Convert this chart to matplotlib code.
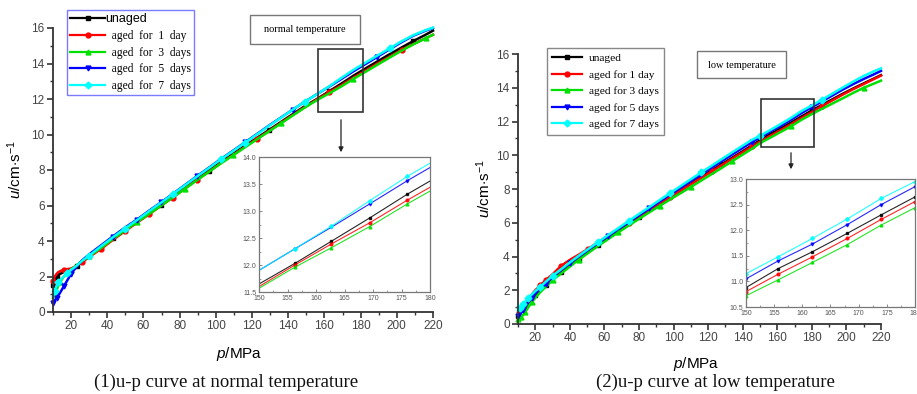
import matplotlib
matplotlib.use("Agg")
import matplotlib.pyplot as plt
from matplotlib.patches import Rectangle, FancyArrowPatch
from matplotlib.lines import Line2D
from matplotlib.ticker import MultipleLocator

plt.rcParams['font.family'] = ['Liberation Sans', 'DejaVu Sans']
plt.rcParams['mathtext.fontset'] = 'custom'
plt.rcParams['mathtext.rm'] = 'Liberation Sans'
plt.rcParams['mathtext.it'] = 'Liberation Sans:italic'

# ---------------- data ----------------
series_names = ["unaged", "aged for 1 day", "aged for 3 days", "aged for 5 days", "aged for 7 days"]
series_colors = ["#000000", "#ff0000", "#00e000", "#0000ff", "#00ffff"]
series_markers = ["s", "o", "^", "v", "D"]

# normal temperature
p_normal = [10, 11, 12, 13, 14, 16, 18, 20, 23, 26, 30, 36.5, 43, 49.7, 56.3, 63, 69.6, 76.2,
            82.8, 89.5, 96, 102.8, 109.4, 116, 122.6, 129.3, 135.9, 142.5, 149.2, 156.3, 162.7,
            169.4, 176, 182.7, 189.3, 196, 202.6, 209.2, 215.9, 220]
u_normal_unaged = [1.5, 1.85, 2.0, 2.1, 2.15, 2.25, 2.32, 2.4, 2.6, 2.85, 3.15, 3.65, 4.15, 4.65,
                   5.1, 5.6, 6.05, 6.5, 7.0, 7.5, 7.95, 8.45, 8.9, 9.35, 9.8, 10.25, 10.7, 11.15,
                   11.6, 12.03, 12.44, 12.87, 13.31, 13.72, 14.12, 14.52, 14.9, 15.27, 15.62, 15.85]
u_normal_1day = [1.75, 2.0, 2.15, 2.25, 2.3, 2.38, 2.42, 2.45, 2.6, 2.8, 3.1, 3.55, 4.05, 4.55,
                 5.02, 5.5, 5.98, 6.45, 6.95, 7.45, 7.9, 8.4, 8.85, 9.3, 9.75, 10.2, 10.65, 11.1,
                 11.55, 12.0, 12.39, 12.78, 13.2, 13.6, 14.0, 14.38, 14.75, 15.1, 15.42, 15.62]
u_normal_3day = [0.8, 1.0, 1.25, 1.5, 1.7, 2.0, 2.2, 2.38, 2.62, 2.88, 3.15, 3.6, 4.1, 4.6,
                 5.05, 5.52, 5.98, 6.45, 6.93, 7.42, 7.88, 8.37, 8.82, 9.27, 9.72, 10.17, 10.62,
                 11.07, 11.52, 11.96, 12.32, 12.71, 13.13, 13.53, 13.93, 14.33, 14.72, 15.08,
                 15.42, 15.62]
u_normal_5day = [0.5, 0.65, 0.8, 0.95, 1.1, 1.45, 1.8, 2.15, 2.55, 2.9, 3.25, 3.75, 4.25, 4.75,
                 5.2, 5.7, 6.17, 6.65, 7.15, 7.65, 8.12, 8.62, 9.08, 9.55, 10.02, 10.5, 10.95,
                 11.4, 11.85, 12.3, 12.7, 13.13, 13.56, 13.97, 14.38, 14.8, 15.2, 15.57, 15.85, 16.0]
u_normal_7day = [0.9, 1.2, 1.5, 1.7, 1.8, 2.0, 2.2, 2.38, 2.6, 2.88, 3.18, 3.7, 4.2, 4.7,
                 5.17, 5.67, 6.15, 6.63, 7.13, 7.63, 8.1, 8.6, 9.06, 9.53, 10.0, 10.48, 10.94,
                 11.4, 11.85, 12.3, 12.72, 13.19, 13.64, 14.05, 14.45, 14.85, 15.25, 15.6, 15.88, 16.02]

# low temperature
p_low = [10, 11, 12, 13, 14, 16, 18, 20, 23, 26, 30, 35, 40, 45, 50.5, 56, 62, 68, 74, 80, 86,
         92, 98, 104, 110, 116, 122, 128, 134, 140, 145.6, 150, 155.7, 161.8, 168, 174, 180,
         186, 192, 198, 204, 210, 216, 220]
u_low_unaged = [0.5, 0.62, 0.75, 0.88, 1.0, 1.25, 1.5, 1.72, 2.02, 2.32, 2.68, 3.08, 3.5, 3.88,
                4.28, 4.68, 5.1, 5.52, 5.92, 6.32, 6.72, 7.12, 7.52, 7.92, 8.32, 8.72, 9.1, 9.48,
                9.86, 10.24, 10.6, 10.88, 11.25, 11.58, 11.94, 12.3, 12.65, 12.99, 13.32, 13.65,
                13.96, 14.26, 14.55, 14.75]
u_low_1day = [0.7, 0.85, 1.0, 1.12, 1.25, 1.5, 1.75, 2.0, 2.3, 2.6, 2.95, 3.45, 3.8, 4.1, 4.45,
              4.82, 5.22, 5.6, 6.0, 6.38, 6.76, 7.14, 7.52, 7.9, 8.28, 8.66, 9.04, 9.42, 9.8,
              10.18, 10.53, 10.8, 11.14, 11.48, 11.84, 12.21, 12.56, 12.92, 13.26, 13.6, 13.92,
              14.22, 14.52, 14.72]
u_low_3day = [0.3, 0.32, 0.4, 0.55, 0.7, 1.0, 1.3, 1.55, 1.9, 2.2, 2.6, 3.0, 3.4, 3.8, 4.2,
              4.6, 5.02, 5.43, 5.83, 6.23, 6.62, 7.0, 7.38, 7.75, 8.12, 8.5, 8.88, 9.26, 9.65,
              10.04, 10.4, 10.72, 11.03, 11.37, 11.72, 12.1, 12.44, 12.76, 13.07, 13.38, 13.7,
              14.0, 14.25, 14.42]
u_low_5day = [0.45, 0.55, 0.7, 0.85, 1.0, 1.3, 1.55, 1.8, 2.1, 2.4, 2.78, 3.2, 3.6, 3.98, 4.38,
              4.78, 5.2, 5.62, 6.03, 6.44, 6.85, 7.26, 7.67, 8.07, 8.47, 8.87, 9.27, 9.66, 10.05,
              10.44, 10.8, 11.05, 11.4, 11.73, 12.11, 12.5, 12.85, 13.2, 13.55, 13.9, 14.22,
              14.52, 14.8, 15.0]
u_low_7day = [0.8, 0.95, 1.1, 1.2, 1.3, 1.55, 1.75, 1.95, 2.2, 2.5, 2.85, 3.25, 3.65, 4.03,
              4.43, 4.83, 5.26, 5.68, 6.1, 6.52, 6.93, 7.35, 7.76, 8.17, 8.58, 8.98, 9.38, 9.78,
              10.18, 10.57, 10.93, 11.15, 11.48, 11.84, 12.22, 12.62, 12.95, 13.3, 13.66, 14.02,
              14.37, 14.7, 14.98, 15.15]

x_ticks = [20, 40, 60, 80, 100, 120, 140, 160, 180, 200, 220]
y_ticks = [0, 2, 4, 6, 8, 10, 12, 14, 16]

normal_series = [u_normal_unaged, u_normal_1day, u_normal_3day, u_normal_5day, u_normal_7day]
low_series = [u_low_unaged, u_low_1day, u_low_3day, u_low_5day, u_low_7day]

normal_markevery = [[0, 2, 8, 12, 16, 20, 25, 30, 37],
                    [0, 5, 9, 11, 13, 15, 17, 19, 24, 30, 36],
                    [1, 4, 7, 10, 14, 18, 22, 26, 32, 38],
                    [0, 2, 5, 7, 12, 14, 16, 19, 23, 27, 34],
                    [1, 3, 6, 10, 13, 17, 21, 23, 28, 35]]
low_markevery = [[0, 4, 7, 9, 11, 13, 15, 19, 23, 27, 31, 36],
                 [1, 5, 8, 9, 11, 14, 18, 22, 26, 30, 37],
                 [0, 2, 4, 6, 10, 13, 17, 21, 24, 28, 34, 41],
                 [0, 3, 6, 9, 12, 16, 20, 25, 30, 36],
                 [1, 3, 5, 8, 10, 15, 18, 22, 25, 31, 37]]

W, H = 917, 394
fig = plt.figure(figsize=(W / 100, H / 100), dpi=100)


def fx(x):
    return x / W


def fy(y):
    return 1 - y / H


def axes_px(x0, y0, x1, y1):
    return [fx(x0), fy(y1), (x1 - x0) / W, (y1 - y0) / H]


def style_main(ax):
    ax.set_xlim(10, 220)
    ax.set_ylim(0, 16)
    ax.set_xticks(x_ticks)
    ax.set_yticks(y_ticks)
    ax.xaxis.set_minor_locator(MultipleLocator(10))
    ax.yaxis.set_minor_locator(MultipleLocator(1))
    for s in ['top', 'right']:
        ax.spines[s].set_visible(False)
    for s in ['left', 'bottom']:
        ax.spines[s].set_linewidth(1.3)
        ax.spines[s].set_color('#333333')
    ax.tick_params(which='major', direction='out', length=4, width=1.2, labelsize=8.5,
                   colors='#333333', labelcolor='#444444', pad=2)
    ax.tick_params(which='minor', direction='out', length=2.5, width=1.0, colors='#333333')
    ax.patch.set_alpha(0)


def style_inset(ax, ylo, yhi):
    ax.set_xlim(150, 180)
    ax.set_ylim(ylo, yhi)
    ax.xaxis.set_major_locator(MultipleLocator(5))
    ax.yaxis.set_major_locator(MultipleLocator(0.5))
    ax.xaxis.set_minor_locator(MultipleLocator(2.5))
    ax.yaxis.set_minor_locator(MultipleLocator(0.25))
    ax.yaxis.set_major_formatter(matplotlib.ticker.FormatStrFormatter('%.1f'))
    for s in ax.spines.values():
        s.set_color('#777777')
        s.set_linewidth(0.9)
    ax.tick_params(which='major', direction='in', length=2.5, width=0.6, labelsize=5,
                   colors='#777777', labelcolor='#555555', pad=2)
    ax.tick_params(which='minor', direction='in', length=1.5, width=0.5, colors='#777777')


def draw_panel(main_box, inset_box, p, series, markevery, iylo, iyhi):
    ax = fig.add_axes(axes_px(*main_box))
    style_main(ax)
    for u, c, m, me in zip(series, series_colors, series_markers, markevery):
        ax.plot(p, u, color=c, lw=1.8, marker=m, ms=3.5, markevery=me, clip_on=False)
    ax.set_xlabel(r'$p$/MPa', fontsize=11)
    ax.set_ylabel(r'$u$/cm$\cdot$s$^{-1}$', fontsize=11)
    ins = fig.add_axes(axes_px(*inset_box))
    style_inset(ins, iylo, iyhi)
    for u, c, m in zip(series, series_colors, series_markers):
        ins.plot(p, u, color=c, lw=0.8, marker=m, ms=2.0, alpha=0.85)
    return ax, ins


# ---- left panel ----
axL, insL = draw_panel((53, 28, 433, 312), (259, 157, 430, 292), p_normal, normal_series,
                       normal_markevery, 11.5, 14.0)
axL.xaxis.set_label_coords(0.49, -0.115)
axL.yaxis.set_label_coords(-0.075, 0.5)

# ---- right panel ----
axR, insR = draw_panel((518, 54, 881, 324), (746, 179, 915, 307), p_low, low_series,
                       low_markevery, 10.5, 13.0)
axR.xaxis.set_label_coords(0.49, -0.115)
axR.yaxis.set_label_coords(-0.07, 0.5)

# ---- legends ----
handles = [Line2D([], [], color=c, marker=m, ms=3.5, lw=1.6)
           for c, m in zip(series_colors, series_markers)]
legL_labels = ["unaged", "  aged  for  1  day", "  aged  for  3  days", "  aged  for  5  days",
               "  aged  for  7  days"]
legL = axL.legend(handles, legL_labels, loc='upper left',
                  bbox_to_anchor=(fx(67), fy(10)), bbox_transform=fig.transFigure,
                  fancybox=False, edgecolor='#7b7bff', framealpha=1,
                  handlelength=3.0, handletextpad=0.05, labelspacing=0.4, borderpad=0.3,
                  borderaxespad=0, prop={'family': 'Liberation Serif', 'size': 8.3})
legL.get_frame().set_linewidth(1.0)
legL.get_texts()[0].set_family('Liberation Sans')
legL.get_texts()[0].set_fontsize(9)

legR = axR.legend(handles, series_names, loc='upper left',
                  bbox_to_anchor=(fx(547), fy(48)), bbox_transform=fig.transFigure,
                  fancybox=False, edgecolor='#888888', framealpha=1,
                  handlelength=2.6, handletextpad=0.6, labelspacing=0.58, borderpad=0.45,
                  borderaxespad=0, prop={'family': 'Liberation Serif', 'size': 8.2})
legR.get_frame().set_linewidth(1.0)


# ---- annotation boxes, zoom rectangles and arrows ----
def rect_px(x0, y0, x1, y1, ec, lw):
    r = Rectangle((fx(x0), fy(y1)), (x1 - x0) / W, (y1 - y0) / H, transform=fig.transFigure,
                  fill=True, fc='none', ec=ec, lw=lw)
    fig.add_artist(r)


def arrow_px(x, y0, y1):
    a = FancyArrowPatch((fx(x), fy(y0)), (fx(x), fy(y1)), transform=fig.transFigure,
                        arrowstyle='-|>', mutation_scale=7, color='#222222', lw=0.9)
    fig.add_artist(a)


rect_px(250, 15, 360, 44, '#777777', 1.0)
fig.text(fx(305), fy(30), 'normal temperature', ha='center', va='center', fontsize=7.5,
         family='Liberation Serif')
rect_px(318, 49, 363, 112, '#333333', 1.2)
arrow_px(341, 117, 155)

rect_px(697, 51, 786, 78, '#777777', 1.0)
fig.text(fx(741.5), fy(65), 'low temperature', ha='center', va='center', fontsize=7.5,
         family='Liberation Serif')
rect_px(761, 99, 814, 147, '#333333', 1.2)
arrow_px(791, 150, 172)

# ---- captions ----
fig.text(fx(226), fy(382), '(1)u-p curve at normal temperature', ha='center', va='center',
         fontsize=13.5, family='Liberation Serif', color='#111111')
fig.text(fx(715), fy(382), '(2)u-p curve at low temperature', ha='center', va='center',
         fontsize=13.5, family='Liberation Serif', color='#111111')

fig.savefig('out.png', dpi=100)
